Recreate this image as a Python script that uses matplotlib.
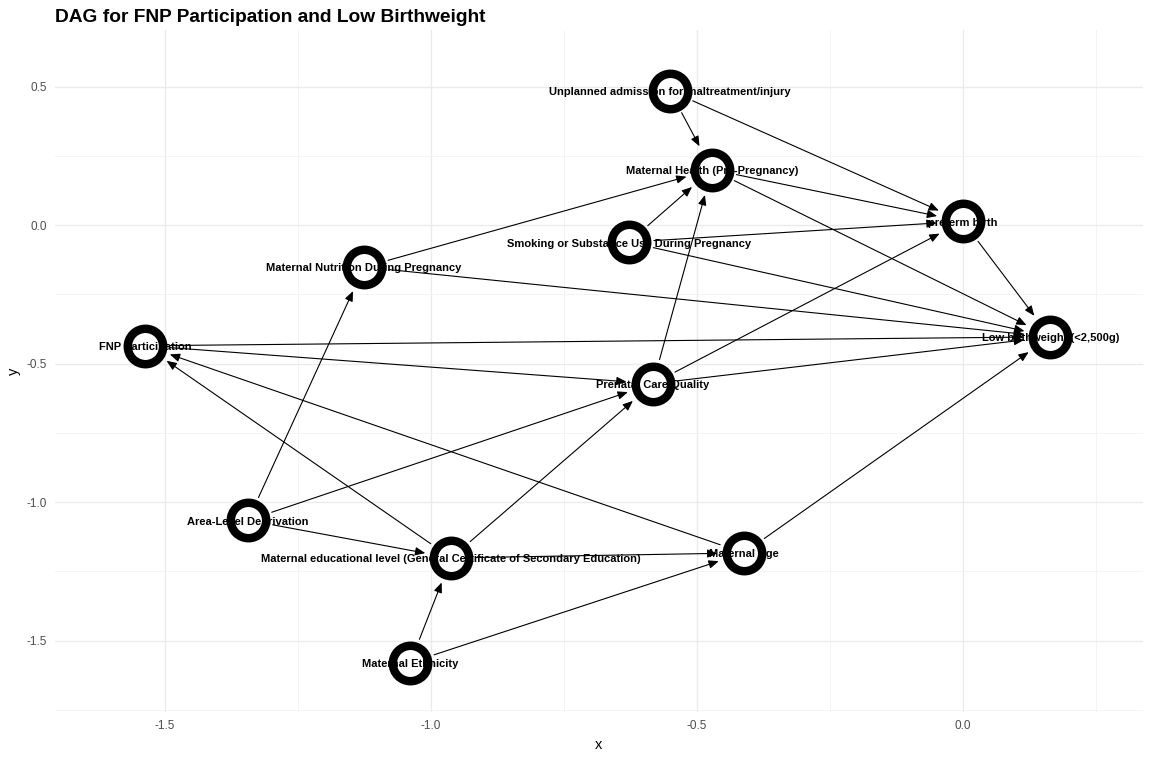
import matplotlib.pyplot as plt
from matplotlib.ticker import MultipleLocator

plt.rcParams['font.family'] = ['Liberation Sans', 'DejaVu Sans']
plt.rcParams['axes.unicode_minus'] = False

# node names and positions
nodes = ['Unplanned admission for maltreatment/injury',
         'Maternal Health (Pre-Pregnancy)',
         'preterm birth',
         'Smoking or Substance Use During Pregnancy',
         'Maternal Nutrition During Pregnancy',
         'FNP Participation',
         'Low birthweight (<2,500g)',
         'Prenatal Care Quality',
         'Area-Level Deprivation',
         'Maternal educational level (General Certificate of Secondary Education)',
         'Maternal Age',
         'Maternal Ethnicity']
node_x = [-0.551, -0.472, 0.0, -0.628, -1.126, -1.538, 0.164, -0.583, -1.344, -0.962, -0.412, -1.039]
node_y = [0.486, 0.201, 0.014, -0.061, -0.151, -0.435, -0.403, -0.572, -1.065, -1.201, -1.183, -1.579]

# edges as (from, to) index pairs
edge_from = [0, 0, 1, 1, 3, 3, 3, 4, 4, 5, 5, 7, 7, 7, 2, 8, 8, 8, 9, 9, 9, 10, 10, 11, 11]
edge_to   = [1, 2, 2, 6, 1, 2, 6, 1, 6, 6, 7, 1, 2, 6, 6, 4, 7, 9, 5, 7, 10, 5, 6, 9, 10]

fig = plt.figure(figsize=(11.52, 7.68), dpi=100)
ax = fig.add_axes([0.0477, 0.073, 0.9443, 0.888])

for a, b in zip(edge_from, edge_to):
    ax.annotate('', xy=(node_x[b], node_y[b]), xytext=(node_x[a], node_y[a]),
                arrowprops=dict(arrowstyle='-|>,head_length=0.6,head_width=0.25',
                                color='black', lw=0.8, shrinkA=18, shrinkB=19),
                zorder=2)

ax.scatter(node_x, node_y, s=650, facecolor='white', edgecolor='black',
           linewidth=6.1, zorder=3)

for name, x, y in zip(nodes, node_x, node_y):
    ax.text(x, y - 0.005, name, ha='center', va='center', fontsize=8.0,
            fontweight='bold', color='black', zorder=4)

ax.set_xlim(-1.707, 0.338)
ax.set_ylim(-1.757, 0.705)
ax.xaxis.set_major_locator(MultipleLocator(0.5))
ax.yaxis.set_major_locator(MultipleLocator(0.5))
ax.xaxis.set_minor_locator(MultipleLocator(0.25))
ax.yaxis.set_minor_locator(MultipleLocator(0.25))
ax.grid(which='major', color='#EBEBEB', lw=1.0)
ax.grid(which='minor', color='#F2F2F2', lw=0.6)
ax.set_axisbelow(True)
for s in ax.spines.values():
    s.set_visible(False)
ax.tick_params(which='both', length=0, labelsize=8.5, labelcolor='#4D4D4D', pad=6)
ax.set_xlabel('x', fontsize=10.5)
ax.set_ylabel('y', fontsize=10.5)
ax.set_title('DAG for FNP Participation and Low Birthweight', loc='left',
             fontsize=13.8, fontweight='bold', pad=6, x=0.0)

fig.savefig('out.png', dpi=100)
